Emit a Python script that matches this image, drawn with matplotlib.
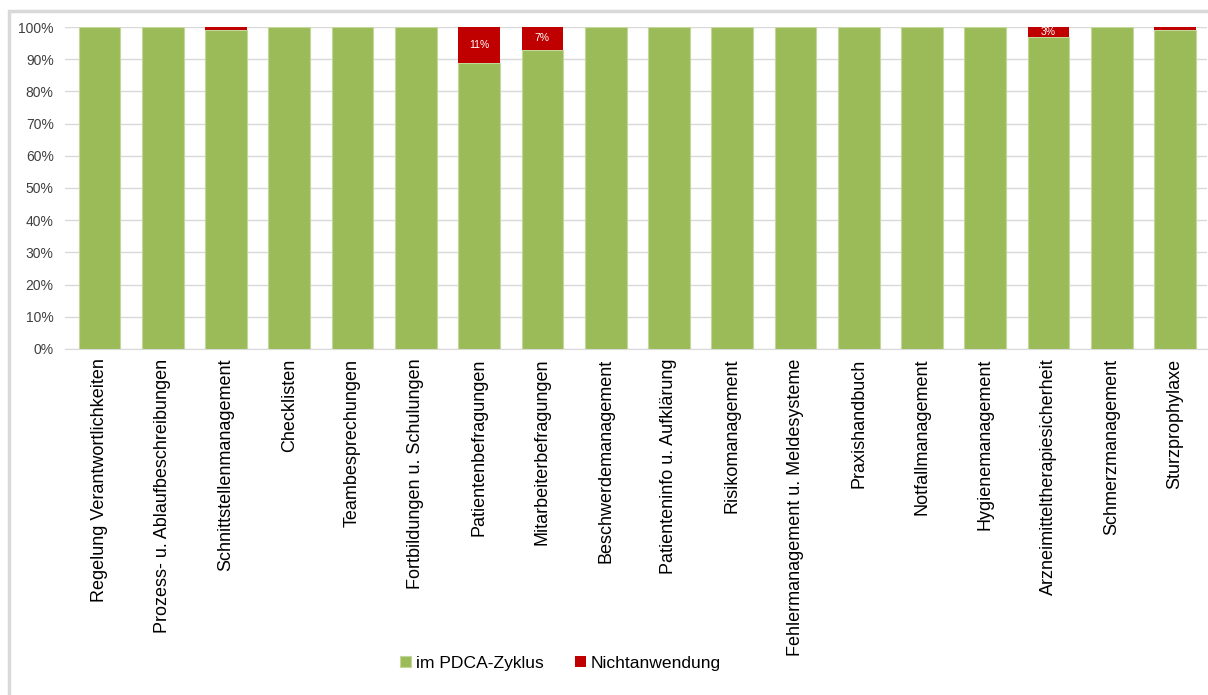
import numpy as np
import matplotlib.pyplot as plt
from matplotlib.patches import Rectangle

plt.rcParams['font.family'] = ['Liberation Sans', 'DejaVu Sans']

categories = [
    "Regelung Verantwortlichkeiten", "Prozess- u. Ablaufbeschreibungen",
    "Schnittstellenmanagement", "Checklisten", "Teambesprechungen",
    "Fortbildungen u. Schulungen", "Patientenbefragungen",
    "Mitarbeiterbefragungen", "Beschwerdemanagement",
    "Patienteninfo u. Aufklärung", "Risikomanagement",
    "Fehlermanagement u. Meldesysteme", "Praxishandbuch",
    "Notfallmanagement", "Hygienemanagement",
    "Arzneimitteltherapiesicherheit", "Schmerzmanagement", "Sturzprophylaxe",
]
nicht = [0, 0, 1, 0, 0, 0, 11, 7, 0, 0, 0, 0, 0, 0, 0, 3, 0, 1]
pdca = [100 - v for v in nicht]
labelled = {6: "11%", 7: "7%", 15: "3%"}

green = "#9bbb59"
red = "#c00000"

fig = plt.figure(figsize=(12.08, 6.95), dpi=100)
ax = fig.add_axes([0.0536, 0.498, 0.9453, 0.463])

x = np.arange(len(categories))
ax.bar(x, pdca, width=0.66, color=green, edgecolor="#c4d79b", linewidth=0.8,
       label="im PDCA-Zyklus", zorder=3)
# only draw the red segments that exist, so empty ones leave no edge line
idx = [i for i, v in enumerate(nicht) if v > 0]
ax.bar(x[idx], [nicht[i] for i in idx], bottom=[pdca[i] for i in idx], width=0.66,
       color=red, linewidth=0, label="Nichtanwendung", zorder=3)

for i, txt in labelled.items():
    ax.text(x[i], pdca[i] + nicht[i] / 2, txt, ha="center", va="center",
            color="white", fontsize=7.5, zorder=4)

ax.set_xlim(-0.55, len(categories) - 0.5)
ax.set_ylim(0, 100)
ax.set_yticks(np.arange(0, 101, 10))
ax.set_yticklabels([f"{v}%" for v in range(0, 101, 10)], fontsize=10, color="#404040")
ax.set_xticks(x)
ax.set_xticklabels(categories, rotation=90, fontsize=13)
ax.tick_params(axis="both", length=0)
ax.tick_params(axis="x", pad=7)
ax.tick_params(axis="y", pad=8)
ax.grid(axis="y", color="#d9d9d9", linewidth=1, zorder=0)
for s in ["top", "right", "left"]:
    ax.spines[s].set_visible(False)
ax.spines["bottom"].set_color("#d9d9d9")

fig.legend(loc="center", bbox_to_anchor=(0.464, 0.046), ncol=2, frameon=False,
           fontsize=12.6, handlelength=0.6, handleheight=0.6, handletextpad=0.3,
           columnspacing=1.8)

fig.patches.append(Rectangle((9 / 1208, -0.1), 1.2, 1 - 11.5 / 695 + 0.1,
                             transform=fig.transFigure, fill=False,
                             edgecolor="#d9d9d9", linewidth=2.5))

fig.savefig("out.png", dpi=100)
